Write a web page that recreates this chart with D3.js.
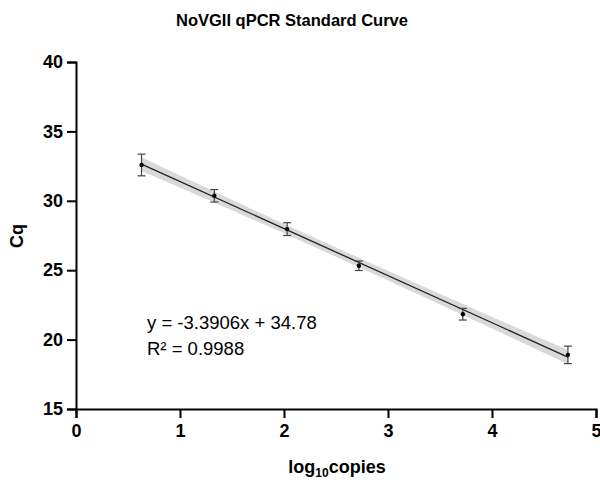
<!DOCTYPE html>
<html>
<head>
<meta charset="utf-8">
<script src="https://cdn.jsdelivr.net/npm/d3@7"></script>
<style>
  body { margin: 0; background: #fff; }
  text { font-family: "Liberation Sans", Arial, sans-serif; }
</style>
</head>
<body>
<div id="chart"></div>
<script>
// data
var logCopies = [0.63, 1.33, 2.03, 2.72, 3.72, 4.73];
var cqMean    = [32.58, 30.36, 27.96, 25.32, 21.83, 18.90];
var cqErr     = [0.78, 0.45, 0.46, 0.34, 0.42, 0.63];
var fitSlope = -3.3906;
var fitIntercept = 34.78;
var bandX    = [0.63, 1.33, 2.03, 2.72, 3.72, 4.73];
var bandHalf = [0.5, 0.4, 0.34, 0.34, 0.4, 0.5];
var xTicks = [0, 1, 2, 3, 4, 5];
var yTicks = [15, 20, 25, 30, 35, 40];

function drawChart() {
  var w = 600, h = 485;
  var mLeft = 76, mRight = 596, mTop = 62, mBottom = 409;

  var svg = d3.select("#chart").append("svg")
    .attr("width", w).attr("height", h);

  var x = d3.scaleLinear().domain([0, 5]).range([mLeft, mRight]);
  var y = d3.scaleLinear().domain([15, 40]).range([mBottom, mTop]);

  // confidence band
  var band = bandX.map(function(v, i) {
    var m = fitSlope * v + fitIntercept;
    return { x: v, lo: m - bandHalf[i], hi: m + bandHalf[i] };
  });
  svg.append("path")
    .datum(band)
    .attr("fill", "#d9d9d9")
    .attr("d", d3.area()
      .curve(d3.curveMonotoneX)
      .x(function(d) { return x(d.x); })
      .y0(function(d) { return y(d.lo); })
      .y1(function(d) { return y(d.hi); }));

  // fit line
  var x0 = logCopies[0], x1 = logCopies[logCopies.length - 1];
  svg.append("line")
    .attr("x1", x(x0)).attr("y1", y(fitSlope * x0 + fitIntercept))
    .attr("x2", x(x1)).attr("y2", y(fitSlope * x1 + fitIntercept))
    .attr("stroke", "#222").attr("stroke-width", 1.3);

  // error bars
  var pts = logCopies.map(function(v, i) { return { x: v, y: cqMean[i], e: cqErr[i] }; });
  var eb = svg.selectAll("g.err").data(pts).enter().append("g").attr("class", "err")
    .attr("stroke", "#444").attr("stroke-width", 1.2);
  eb.append("line")
    .attr("x1", function(d) { return x(d.x); }).attr("x2", function(d) { return x(d.x); })
    .attr("y1", function(d) { return y(d.y - d.e); }).attr("y2", function(d) { return y(d.y + d.e); });
  eb.append("line")
    .attr("x1", function(d) { return x(d.x) - 4; }).attr("x2", function(d) { return x(d.x) + 4; })
    .attr("y1", function(d) { return y(d.y + d.e); }).attr("y2", function(d) { return y(d.y + d.e); });
  eb.append("line")
    .attr("x1", function(d) { return x(d.x) - 4; }).attr("x2", function(d) { return x(d.x) + 4; })
    .attr("y1", function(d) { return y(d.y - d.e); }).attr("y2", function(d) { return y(d.y - d.e); });

  svg.selectAll("circle.pt").data(pts).enter().append("circle")
    .attr("class", "pt")
    .attr("cx", function(d) { return x(d.x); })
    .attr("cy", function(d) { return y(d.y); })
    .attr("r", 2.2).attr("fill", "#000");

  // axes
  var xAxis = svg.append("g").attr("transform", "translate(0," + mBottom + ")")
    .call(d3.axisBottom(x).tickValues(xTicks).tickSize(9).tickPadding(6).tickFormat(d3.format("d")));
  var yAxis = svg.append("g").attr("transform", "translate(" + mLeft + ",0)")
    .call(d3.axisLeft(y).tickValues(yTicks).tickSize(9).tickPadding(4).tickFormat(d3.format("d")));
  [xAxis, yAxis].forEach(function(a) {
    a.select(".domain").attr("stroke", "#000").attr("stroke-width", 2);
    a.selectAll(".tick line").attr("stroke", "#000").attr("stroke-width", 2);
    a.selectAll(".tick text")
      .attr("fill", "#000")
      .style("font-family", "Liberation Sans, Arial, sans-serif")
      .style("font-size", "18px").style("font-weight", "bold");
  });

  // titles
  svg.append("text").attr("x", 292).attr("y", 26).attr("text-anchor", "middle")
    .style("font-size", "16.5px").style("font-weight", "bold").text("NoVGII qPCR Standard Curve");

  var xl = svg.append("text").attr("x", 337).attr("y", 473).attr("text-anchor", "middle")
    .style("font-size", "18px").style("font-weight", "bold");
  xl.append("tspan").text("log");
  xl.append("tspan").attr("dy", 4).style("font-size", "12px").text("10");
  xl.append("tspan").attr("dy", -4).text("copies");

  svg.append("text").attr("transform", "translate(23,236) rotate(-90)").attr("text-anchor", "middle")
    .style("font-size", "18px").style("font-weight", "bold").text("Cq");

  svg.append("text").attr("x", 147).attr("y", 329).style("font-size", "18.5px")
    .text("y = " + fitSlope + "x + " + fitIntercept);
  svg.append("text").attr("x", 147).attr("y", 355).style("font-size", "18.5px")
    .text("R² = 0.9988");
}
drawChart();
</script>
</body>
</html>
